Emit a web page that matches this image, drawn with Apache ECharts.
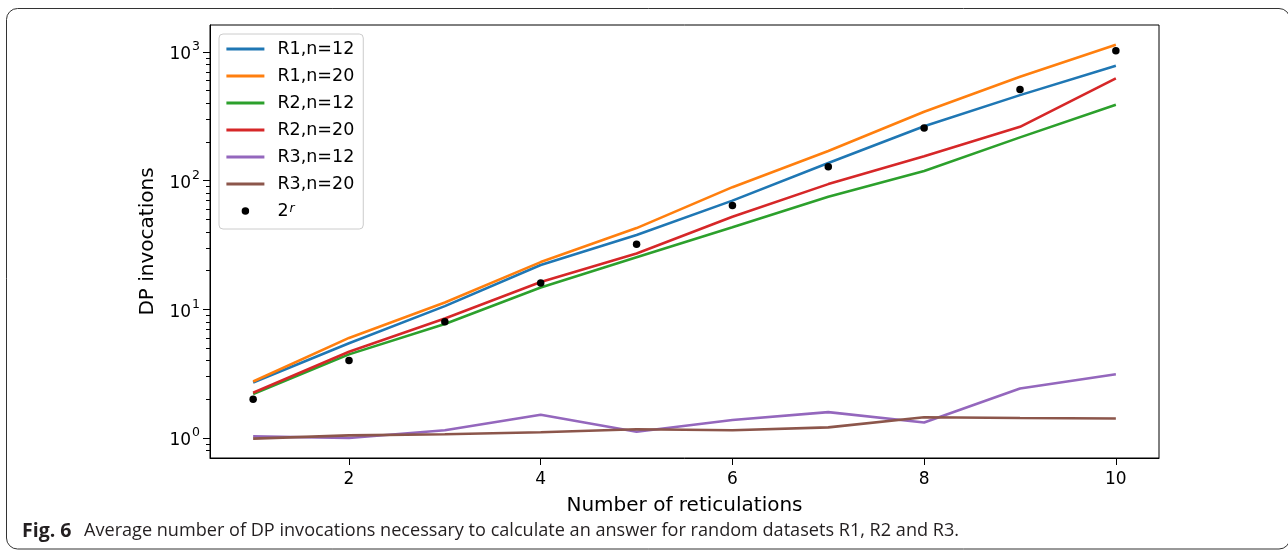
<!DOCTYPE html>
<html>
<head>
<meta charset="utf-8">
<script src="https://cdn.jsdelivr.net/npm/echarts@6/dist/echarts.min.js"></script>
<style>
  html, body { margin: 0; padding: 0; background: #ffffff; }
  #chart { width: 1288px; height: 550px; }
</style>
</head>
<body>
<div id="chart"></div>
<script>
// Number of reticulations r
const reticulations = [1, 2, 3, 4, 5, 6, 7, 8, 9, 10];

// Average number of DP invocations per dataset / taxon count
const r1n12 = [2.7, 5.45, 10.6, 22.1, 37.8, 70, 137, 265, 462, 780];
const r1n20 = [2.75, 6.0, 11.3, 23.3, 42.8, 89, 170, 343, 642, 1137];
const r2n12 = [2.2, 4.47, 7.7, 14.8, 25.4, 43.4, 75, 119, 217, 389];
const r2n20 = [2.25, 4.69, 8.5, 16.3, 27.2, 52.4, 94, 155, 262, 624];
const r3n12 = [1.03, 1.0, 1.15, 1.52, 1.12, 1.38, 1.59, 1.32, 2.43, 3.13];
const r3n20 = [0.99, 1.05, 1.07, 1.11, 1.17, 1.15, 1.21, 1.45, 1.43, 1.42];
const powersOfTwo = [2, 4, 8, 16, 32, 64, 128, 256, 512, 1024];

// Axis ticks
const xTicks = [2, 4, 6, 8, 10];
const yMajorTicks = [1, 10, 100, 1000];
const yMinorTicks = [0.8, 0.9, 2, 3, 4, 5, 6, 7, 8, 9, 20, 30, 40, 50, 60, 70, 80, 90,
                     200, 300, 400, 500, 600, 700, 800, 900];

const seriesNames = ['R1,n=12', 'R1,n=20', 'R2,n=12', 'R2,n=20', 'R3,n=12', 'R3,n=20'];
const seriesValues = [r1n12, r1n20, r2n12, r2n20, r3n12, r3n20];
const palette = ['#1f77b4', '#ff7f0e', '#2ca02c', '#d62728', '#9467bd', '#8c564b'];
const dotName = '2^r';

const FONT = 'DejaVu Sans';
const CAPTION_FONT = 'Open Sans';

const pairs = (ys) => reticulations.map((x, i) => [x, ys[i]]);

const lineSeries = seriesNames.map((name, i) => ({
  name: name,
  type: 'line',
  data: pairs(seriesValues[i]),
  symbol: 'none',
  showSymbol: false,
  color: palette[i],
  lineStyle: { width: 2.6, color: palette[i] },
  z: 2 + i,
  silent: true,
  animation: false
}));

// legend entries for lines: plain line, no marker in the middle
const hiddenMarker = { color: 'rgba(0,0,0,0)', borderColor: 'rgba(0,0,0,0)', borderWidth: 0, opacity: 0 };

const option = {
  animation: false,
  backgroundColor: '#ffffff',
  textStyle: { fontFamily: FONT },
  grid: {
    left: 210, right: 129, top: 25, bottom: 92,
    show: true, borderColor: '#000000', borderWidth: 1, backgroundColor: 'transparent'
  },
  legend: {
    left: 219, top: 34,
    orient: 'vertical',
    data: seriesNames.map(n => ({ name: n, itemStyle: hiddenMarker }))
      .concat([{ name: dotName, icon: 'circle', itemStyle: { color: '#000000', opacity: 1 } }]),
    itemWidth: 38, itemHeight: 7.5,
    itemGap: 9,
    padding: [6, 9, 9, 6],
    backgroundColor: '#ffffff',
    borderColor: '#cccccc', borderWidth: 1, borderRadius: 4,
    selectedMode: false,
    lineStyle: { width: 2.8 },
    textStyle: {
      fontFamily: FONT, fontSize: 17.5, color: '#000000', lineHeight: 18, padding: [0, 0, 0, 8],
      rich: {
        base: { fontFamily: FONT, fontSize: 17.5, color: '#000000' },
        sup: { fontFamily: FONT, fontSize: 12.5, fontStyle: 'italic', color: '#000000', verticalAlign: 'top', padding: [0, 0, 9, 1] }
      }
    },
    formatter: (name) => name === dotName ? '{base|2}{sup|r}' : name
  },
  xAxis: {
    type: 'value',
    min: 0.55, max: 10.45,
    name: 'Number of reticulations',
    nameLocation: 'middle',
    nameGap: 38,
    nameTextStyle: { fontFamily: FONT, fontSize: 20, color: '#000000' },
    axisLine: { show: true, lineStyle: { color: '#000000', width: 1 } },
    axisTick: { show: true, customValues: xTicks, length: 7, inside: false, lineStyle: { color: '#000000', width: 1 } },
    axisLabel: { show: true, customValues: xTicks, margin: 13, fontFamily: FONT, fontSize: 17, color: '#000000' },
    splitLine: { show: false }
  },
  yAxis: [
    {
      type: 'log', logBase: 10,
      min: 0.7, max: 1620,
      name: 'DP invocations',
      nameLocation: 'middle',
      nameGap: 52,
      nameTextStyle: { fontFamily: FONT, fontSize: 20, color: '#000000' },
      axisLine: { show: true, lineStyle: { color: '#000000', width: 1 } },
      axisTick: { show: true, customValues: yMajorTicks, length: 7, lineStyle: { color: '#000000', width: 1 } },
      axisLabel: {
        show: true, customValues: yMajorTicks, margin: 10, color: '#000000',
        fontFamily: FONT, fontSize: 17,
        formatter: (v) => '{b|10}{s|' + Math.round(Math.log10(v)) + '}',
        rich: {
          b: { fontFamily: FONT, fontSize: 17, color: '#000000', padding: [6, 0, 0, 0] },
          s: { fontFamily: FONT, fontSize: 12.5, color: '#000000', verticalAlign: 'top', padding: [0, 0, 0, 1] }
        }
      },
      splitLine: { show: false }
    },
    {
      type: 'log', logBase: 10,
      min: 0.7, max: 1620,
      position: 'left',
      axisLine: { show: false },
      axisTick: { show: true, customValues: yMinorTicks, length: 4, lineStyle: { color: '#000000', width: 1 } },
      axisLabel: { show: false },
      splitLine: { show: false }
    }
  ],
  series: lineSeries.concat([{
    name: dotName,
    type: 'scatter',
    data: pairs(powersOfTwo),
    symbol: 'circle',
    symbolSize: 7.5,
    color: '#000000',
    itemStyle: { color: '#000000', opacity: 1 },
    z: 10,
    silent: true
  }]),
  graphic: [
    {
      type: 'rect',
      shape: { x: 6.5, y: 8.5, width: 1283.5, height: 540.5, r: 11 },
      style: { fill: 'none', stroke: '#333333', lineWidth: 1 },
      silent: true, z: 0
    },
    {
      type: 'text',
      x: 22, y: 531,
      style: {
        text: 'Fig. 6', fontFamily: CAPTION_FONT, fontWeight: 'bold', fontSize: 19.5,
        fill: '#231f20', verticalAlign: 'middle', align: 'left'
      },
      silent: true
    },
    {
      type: 'text',
      x: 84, y: 531,
      style: {
        text: 'Average number of DP invocations necessary to calculate an answer for random datasets R1, R2 and R3.',
        fontFamily: CAPTION_FONT, fontSize: 18.1,
        fill: '#231f20', verticalAlign: 'middle', align: 'left'
      },
      silent: true
    }
  ]
};

const chart = echarts.init(document.getElementById('chart'), null, { renderer: 'canvas' });
chart.setOption(option);
</script>
</body>
</html>
